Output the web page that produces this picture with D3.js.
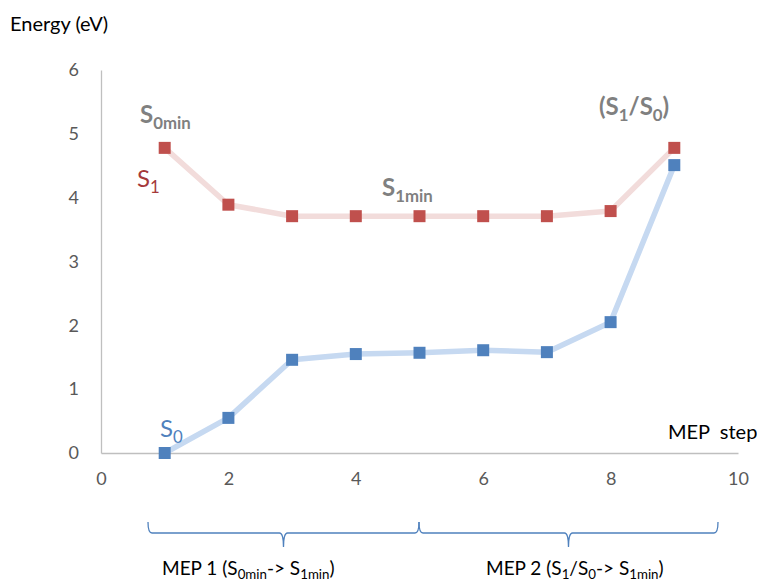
<!DOCTYPE html>
<html><head><meta charset="utf-8">
<script src="https://cdn.jsdelivr.net/npm/d3@7"></script>
<style>body{margin:0;background:#fff;} text{font-family:Lato,"Open Sans",sans-serif;white-space:pre;}</style>
</head><body>
<svg id="c" width="757" height="585"></svg>
<script>
const steps = [1,2,3,4,5,6,7,8,9];
const s1Values = [4.78,3.89,3.71,3.71,3.71,3.71,3.71,3.79,4.78];
const s0Values = [0.00,0.55,1.46,1.55,1.57,1.61,1.58,2.05,4.51];
const xTicks = [0,2,4,6,8,10];
const yTicks = [0,1,2,3,4,5,6];

const svg = d3.select("#c");
const x = d3.scaleLinear().domain([0,10]).range([101,738]);
const y = d3.scaleLinear().domain([0,6]).range([453,70]);

// axes
const xa = svg.append("g").attr("transform","translate(0,"+y(0)+")")
  .call(d3.axisBottom(x).tickValues(xTicks).tickFormat(d3.format("d")).tickSize(0).tickPadding(19));
xa.select(".domain").attr("stroke","#bfbfbf").attr("stroke-width",1.3);
xa.selectAll("text").attr("fill","#595959").attr("font-size",18).style("font-family","Lato,'Open Sans',sans-serif");
const ya = svg.append("g").attr("transform","translate("+x(0)+",0)")
  .call(d3.axisLeft(y).tickValues(yTicks).tickFormat(d3.format("d")).tickSize(0).tickPadding(22));
ya.select(".domain").attr("stroke","#bfbfbf").attr("stroke-width",1.3);
ya.selectAll("text").attr("fill","#595959").attr("font-size",18).style("font-family","Lato,'Open Sans',sans-serif");

const line = d3.line().x((d,i)=>x(steps[i])).y(d=>y(d));
svg.append("path").datum(s1Values).attr("d",line).attr("fill","none").attr("stroke","#f2dcdb").attr("stroke-width",5.5).attr("stroke-linejoin","round");
svg.append("path").datum(s0Values).attr("d",line).attr("fill","none").attr("stroke","#c6d9f1").attr("stroke-width",5.5).attr("stroke-linejoin","round");
const ms = 12;
svg.selectAll(".m1").data(s1Values).enter().append("rect")
  .attr("x",(d,i)=>x(steps[i])-ms/2).attr("y",d=>y(d)-ms/2).attr("width",ms).attr("height",ms).attr("fill","#c0504d");
svg.selectAll(".m0").data(s0Values).enter().append("rect")
  .attr("x",(d,i)=>x(steps[i])-ms/2).attr("y",d=>y(d)-ms/2).attr("width",ms).attr("height",ms).attr("fill","#4f81bd");

function label(xp, yp, parts, color, size, weight, subShift){
  const sh = subShift===undefined ? 0.25 : subShift;
  const t = svg.append("text").attr("x",xp).attr("y",yp).attr("fill",color).attr("font-size",size).attr("font-weight",weight||"normal");
  parts.forEach(p=>{
    const ts = t.append("tspan").text(p[0]);
    if (p[1]==="sub") ts.attr("font-size",size*0.7).attr("dy",size*sh);
    else if (p[1]==="up") ts.attr("dy",-size*sh);
  });
  return t;
}
label(10,31,[["Energy (eV)"]],"#000",20);
label(668,439,[["MEP  step"]],"#000",20);
label(140,123,[["S"],["0min","sub"]],"#808080",24,"bold");
label(137,187,[["S"],["1","sub"]],"#a5393a",24);
label(382,196,[["S"],["1min","sub"]],"#808080",24,"bold");
label(599,115,[["(S"],["1","sub"],["/S","up"],["0","sub"],[")","up"]],"#808080",24,"bold");
label(160,437,[["S"],["0","sub"]],"#4f81bd",24);

// braces
function brace(x0,x1,yTop,yMid,yTip){
  const xm=(x0+x1)/2, r=4;
  const p = `M${x0},${yTop} Q${x0},${yMid} ${x0+r},${yMid} L${xm-r},${yMid} Q${xm},${yMid} ${xm},${yTip} Q${xm},${yMid} ${xm+r},${yMid} L${x1-r},${yMid} Q${x1},${yMid} ${x1},${yTop}`;
  svg.append("path").attr("d",p).attr("fill","none").attr("stroke","#4f81bd").attr("stroke-width",1.3);
}
brace(148,419,522,533,547);
brace(419,718,522,533,547);
label(162,575,[["MEP 1 (S"],["0min","sub"],["-> S","up"],["1min","sub"],[")","up"]],"#000",19,"normal",0.2);
label(486,575,[["MEP 2 (S"],["1","sub"],["/S","up"],["0","sub"],["-> S","up"],["1min","sub"],[")","up"]],"#000",19,"normal",0.2);
</script>
</body></html>
